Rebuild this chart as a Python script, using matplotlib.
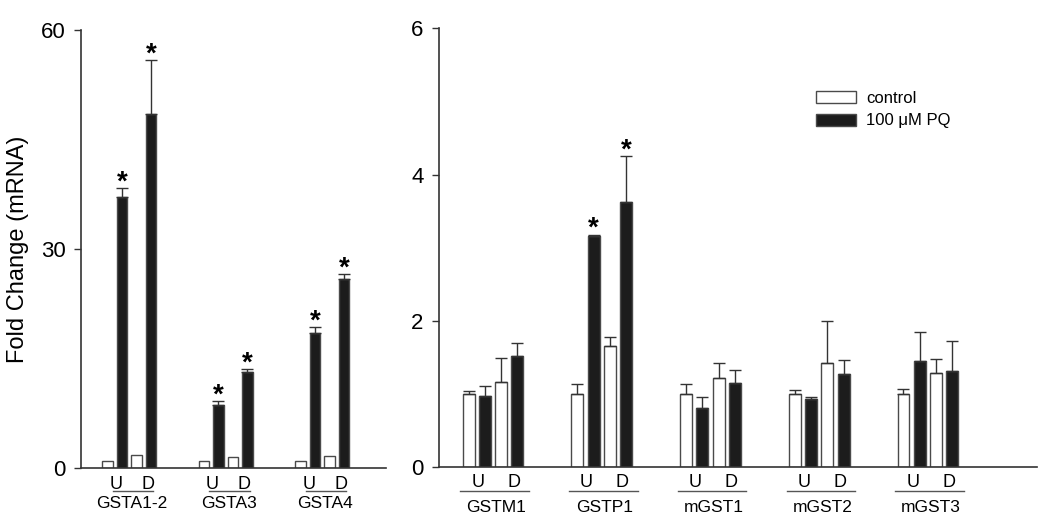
import numpy as np
import matplotlib
matplotlib.use("Agg")
import matplotlib.pyplot as plt
import matplotlib.transforms as mtransforms

plt.rcParams['font.family'] = ['Liberation Sans', 'DejaVu Sans']

# ---- data ----
left_genes = ['GSTA1-2', 'GSTA3', 'GSTA4']
left_ctrl_u = [1.0, 1.0, 1.0]
left_pq_u = [37.2, 8.7, 18.5]
left_ctrl_d = [1.85, 1.6, 1.75]
left_pq_d = [48.6, 13.2, 25.9]
left_pq_u_err = [1.2, 0.5, 0.8]
left_pq_d_err = [7.3, 0.36, 0.7]
left_star_u = [True, True, True]
left_star_d = [True, True, True]

right_genes = ['GSTM1', 'GSTP1', 'mGST1', 'mGST2', 'mGST3']
right_ctrl_u = [1.0, 1.0, 1.0, 1.0, 1.0]
right_ctrl_u_err = [0.04, 0.14, 0.14, 0.06, 0.066]
right_pq_u = [0.98, 3.16, 0.81, 0.93, 1.45]
right_pq_u_err = [0.13, 0.02, 0.15, 0.035, 0.40]
right_ctrl_d = [1.16, 1.66, 1.22, 1.43, 1.29]
right_ctrl_d_err = [0.34, 0.12, 0.21, 0.57, 0.19]
right_pq_d = [1.52, 3.63, 1.15, 1.28, 1.31]
right_pq_d_err = [0.18, 0.62, 0.18, 0.18, 0.41]
right_star_u = [False, True, False, False, False]
right_star_d = [False, True, False, False, False]

# ---- style ----
DARK = '#1c1c1c'
EDGE = '#4a4a4a'
AXC = '#333333'
W = 0.11
OFFS = [-0.225, -0.075, 0.075, 0.225]


def draw_panel(ax, genes, series, errs, stars, ul_span, lab_pts):
    x = np.arange(len(genes))
    colors = ['white', DARK, 'white', DARK]
    for off, vals, err, col in zip(OFFS, series, errs, colors):
        ax.bar(x + off, vals, width=W, color=col, edgecolor=EDGE,
               linewidth=1.0, zorder=2)
        if err is not None:
            ax.errorbar(x + off, vals, yerr=[np.zeros(len(vals)), err],
                        fmt='none', ecolor=AXC, elinewidth=1.0,
                        capsize=4, capthick=1.0, zorder=3)
    # significance stars over PQ bars
    for idx, off in ((1, OFFS[1]), (3, OFFS[3])):
        vals = series[idx]
        err = errs[idx]
        for i, flag in enumerate(stars[idx // 2]):
            if flag:
                top = vals[i] + (err[i] if err is not None else 0)
                ax.annotate('*', xy=(x[i] + off, top), xytext=(0, -1),
                            textcoords='offset points', ha='center',
                            va='baseline', fontsize=20, fontweight='bold')

    # U / D labels, underline and gene names
    u_off, d_off, name_off = lab_pts
    trans = mtransforms.blended_transform_factory(ax.transData, ax.transAxes)
    for i, g in enumerate(genes):
        ax.annotate('U', xy=(x[i] - 0.14, 0), xycoords=trans,
                    xytext=(0, u_off), textcoords='offset points',
                    ha='center', va='center', fontsize=13)
        ax.annotate('D', xy=(x[i] + 0.19, 0), xycoords=trans,
                    xytext=(0, u_off), textcoords='offset points',
                    ha='center', va='center', fontsize=13)
        ax.annotate(g, xy=(x[i] + 0.03, 0), xycoords=trans,
                    xytext=(0, name_off), textcoords='offset points',
                    ha='center', va='center', fontsize=12.5)
        line_y = d_off / 72 * 100 / (ax.get_position().height * 531)
        ax.plot([x[i] + ul_span[0], x[i] + ul_span[1]], [line_y, line_y],
                transform=trans, color='#555555', lw=1.0, clip_on=False)

    for s in ('top', 'right'):
        ax.spines[s].set_visible(False)
    for s in ('left', 'bottom'):
        ax.spines[s].set_color(AXC)
        ax.spines[s].set_linewidth(1.2)
    ax.set_xticks([])
    ax.tick_params(axis='y', direction='out', length=5, width=1.0,
                   color=AXC, labelsize=16, pad=6)


fig = plt.figure(figsize=(10.5, 5.31), dpi=100)

ax1 = fig.add_axes([81 / 1050, 1 - 468.3 / 531, 305 / 1050, 438 / 531])
ax2 = fig.add_axes([438.7 / 1050, 1 - 467.3 / 531, 598 / 1050, 439 / 531])

draw_panel(ax1, left_genes,
           [left_ctrl_u, left_pq_u, left_ctrl_d, left_pq_d],
           [None, left_pq_u_err, None, left_pq_d_err],
           [left_star_u, left_star_d],
           (-0.17, 0.25), (-11.5, -16.5, -25.5))
ax1.set_xlim(-0.4995, 2.661)
ax1.set_ylim(0, 60)
ax1.set_yticks([0, 30, 60])

draw_panel(ax2, right_genes,
           [right_ctrl_u, right_pq_u, right_ctrl_d, right_pq_d],
           [right_ctrl_u_err, right_pq_u_err, right_ctrl_d_err, right_pq_d_err],
           [right_star_u, right_star_d],
           (-0.30, 0.33), (-11.0, -17.0, -29.0))
ax2.set_xlim(-0.4995, 5.0)
ax2.set_ylim(0, 6)
ax2.set_yticks([0, 2, 4, 6])

fig.text(18 / 1050, 1 - 249 / 531, 'Fold Change (mRNA)', rotation=90,
         ha='center', va='center', fontsize=17)

# legend
h_ctrl = plt.Rectangle((0, 0), 1, 1, facecolor='white', edgecolor=EDGE, lw=1.0)
h_pq = plt.Rectangle((0, 0), 1, 1, facecolor=DARK, edgecolor=EDGE, lw=1.0)
ax2.legend([h_ctrl, h_pq], ['control', '100 \u03bcM PQ'], frameon=False,
           loc='upper left', bbox_to_anchor=(816 / 1050, 1 - 91 / 531),
           bbox_transform=fig.transFigure, borderaxespad=0, borderpad=0,
           handlelength=2.4, handleheight=0.75, handletextpad=0.6,
           labelspacing=0.45, fontsize=12)

fig.savefig('out.png', dpi=100)
